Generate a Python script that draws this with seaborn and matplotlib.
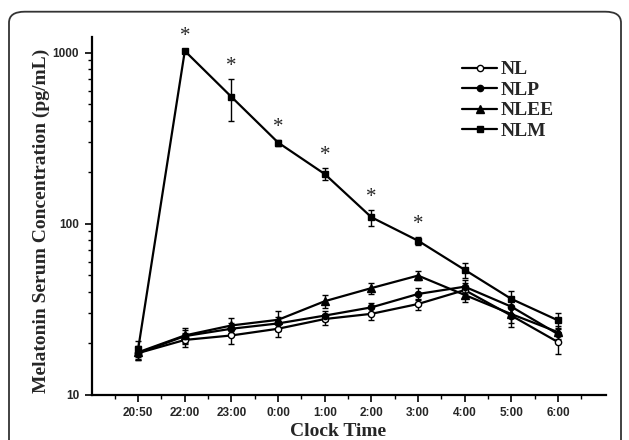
import matplotlib
matplotlib.use("Agg")
import matplotlib.pyplot as plt
import numpy as np
import pandas as pd
import seaborn as sns
from matplotlib.patches import FancyBboxPatch
from matplotlib.ticker import FixedLocator, NullFormatter

# valores (pg/mL)
times = ["20:50", "22:00", "23:00", "0:00", "1:00", "2:00", "3:00", "4:00", "5:00", "6:00"]
nl = [17.5, 20.9, 22.2, 24.3, 27.7, 29.7, 33.9, 40.9, 29.0, 20.3]
nlp = [17.5, 22.0, 24.3, 26.1, 29.0, 32.4, 38.8, 42.8, 32.7, 22.6]
nlee = [17.7, 22.2, 25.4, 27.4, 35.2, 42.0, 49.7, 38.3, 29.6, 23.2]
nlm = [18.5, 1023, 551, 298, 195, 109, 79.5, 53.7, 36.3, 27.2]

nl_err = [1.5, 2.0, 2.5, 2.5, 2.0, 2.5, 2.5, 4.0, 4.0, 3.0]
nlp_err = [1.5, 2.0, 2.0, 2.5, 2.0, 2.0, 3.0, 4.0, 3.0, 2.0]
nlee_err = [1.5, 2.5, 2.5, 3.5, 3.0, 3.0, 3.0, 3.5, 3.5, 2.0]
nlm_err = [2.0, 30, 150, 12, 16, 12, 4.0, 5.5, 4.0, 3.0]

# pontos com diferença significativa (asterisco)
signif = ["22:00", "23:00", "0:00", "1:00", "2:00", "3:00"]

sns.set_style("ticks")
plt.rcParams["font.family"] = ["Liberation Serif", "DejaVu Serif"]

fig = plt.figure(figsize=(6.29, 4.4), dpi=100)
ax = fig.add_axes([0.1455, 0.103, 0.818, 0.813])

pos = np.arange(len(times))
series = [
    ("NL", nl, nl_err, "o", "white", 4.5),
    ("NLP", nlp, nlp_err, "o", "black", 4.5),
    ("NLEE", nlee, nlee_err, "^", "black", 5.5),
    ("NLM", nlm, nlm_err, "s", "black", 5),
]

for name, vals, err, mk, fc, ms in series:
    df = pd.DataFrame({"pos": pos, "value": vals})
    ax.errorbar(df["pos"], df["value"], yerr=err, fmt="none", ecolor="black",
                elinewidth=1.0, capsize=2.5, capthick=1.0, zorder=2)
    sns.lineplot(data=df, x="pos", y="value", ax=ax, color="black", linewidth=1.6,
                 marker=mk, markersize=ms, markerfacecolor=fc, markeredgecolor="black",
                 markeredgewidth=1.0, label=name, zorder=3)

# asteriscos acima das barras de erro do NLM
for t in signif:
    i = times.index(t)
    ax.annotate("*", (pos[i], nlm[i] + nlm_err[i]), xytext=(0, 2), textcoords="offset points",
                ha="center", va="bottom", fontsize=15, fontfamily="Liberation Serif",
                annotation_clip=False)

ax.set_yscale("log")
ax.set_ylim(10, 1235)
ax.set_xlim(-1, 10.03)
ax.yaxis.set_major_locator(FixedLocator([10, 100, 1000]))
ax.set_yticklabels(["10", "100", "1000"])
ax.yaxis.set_minor_formatter(NullFormatter())
ax.set_xticks(pos)
ax.set_xticklabels(times)
ax.xaxis.set_minor_locator(FixedLocator(np.arange(-1.5, 10.5, 1.0)))

for lab in ax.get_xticklabels() + ax.get_yticklabels():
    lab.set_fontfamily("Liberation Sans")
    lab.set_fontweight("bold")
    lab.set_fontsize(8.5)

ax.tick_params(axis="both", which="major", direction="out", length=5, width=1.2, pad=4, color="black")
ax.tick_params(axis="both", which="minor", direction="out", length=3, width=1.0, color="black")
for s in ["left", "bottom"]:
    ax.spines[s].set_linewidth(1.6)
    ax.spines[s].set_color("black")
sns.despine(ax=ax)

ax.set_xlabel("Clock Time", fontsize=14, fontweight="bold")
ax.xaxis.set_label_coords(0.48, -0.08)
ax.set_ylabel("Melatonin Serum Concentration (pg/mL)", fontsize=14, fontweight="bold")
ax.yaxis.set_label_coords(-0.08, 0.486)

ax.legend(loc="upper left", bbox_to_anchor=(0.7345, 0.862), bbox_transform=fig.transFigure,
          frameon=False, prop={"family": "Liberation Serif", "weight": "bold", "size": 14},
          labelspacing=0.15, handlelength=1.8, handletextpad=0.2, borderpad=0, borderaxespad=0)

# moldura arredondada em volta da figura
frame = FancyBboxPatch((9 / 629, -0.05), 612 / 629, 1 - 11.7 / 440 + 0.05,
                       boxstyle="round,pad=0,rounding_size=0.025", transform=fig.transFigure,
                       facecolor="none", edgecolor="#333333", linewidth=1.3, clip_on=False)
fig.patches.append(frame)

fig.savefig("out.png", dpi=100)
